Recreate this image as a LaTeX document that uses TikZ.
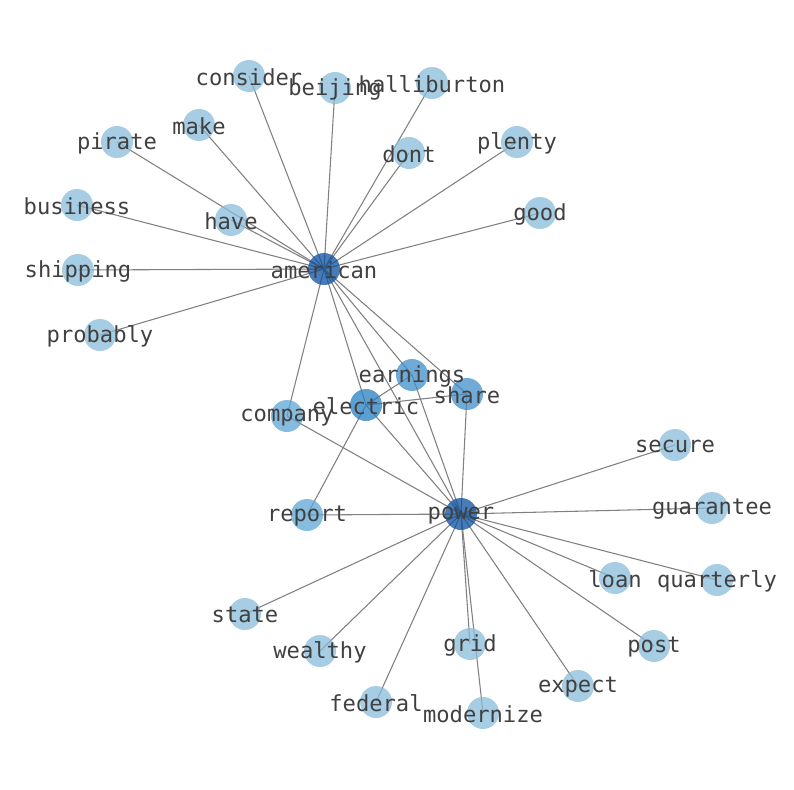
\documentclass[tikz,border=0pt]{standalone}
\usepackage{fontspec}
\setmonofont{DejaVu Sans Mono}
\usetikzlibrary{backgrounds}
\definecolor{leaf}{RGB}{136,188,218}
\definecolor{midleaf}{RGB}{94,166,212}
\definecolor{inner}{RGB}{64,143,202}
\definecolor{hubish}{RGB}{40,127,193}
\definecolor{hub}{RGB}{10,80,160}
\definecolor{labelgray}{RGB}{64,64,64}
\begin{document}
\begin{tikzpicture}[x=0.75pt,y=-0.75pt,
word/.style={%
circle,
minimum size=24pt,
inner sep=0pt,
fill opacity=0.75
},
wordtext/.style={%
font=\ttfamily\fontsize{16.6}{16.6}\selectfont,
text=labelgray,
inner sep=0pt
},
link/.style={%
draw=gray,
line width=0.8pt
}]
\useasboundingbox (0,0) rectangle (794,790);
% words
\foreach \n/\x/\y/\c in {american/324/269/hub,power/461/514/hub,
electric/366/405/hubish,earnings/412/375/inner,share/467/394/inner,
report/307/515/midleaf,company/287/416/midleaf,
consider/249/76/leaf,beijing/335/88/leaf,halliburton/432/83/leaf,
make/199/125/leaf,pirate/117/142/leaf,dont/409/153/leaf,
plenty/517/142/leaf,business/77/205/leaf,have/231/220/leaf,
good/540/213/leaf,shipping/78/270/leaf,probably/100/335/leaf,
secure/675/445/leaf,guarantee/712/508/leaf,loan/615/578/leaf,
quarterly/717/580/leaf,state/245/614/leaf,wealthy/320/651/leaf,
grid/470/644/leaf,post/654/646/leaf,expect/578/686/leaf,
federal/376/702/leaf,modernize/483/713/leaf}{%
\node[word,fill=\c] (\n) at (\x,\y) {};
}
% labels on top
\foreach \n in {american,power,electric,earnings,share,report,company,
consider,beijing,halliburton,make,pirate,dont,plenty,business,have,
good,shipping,probably,secure,guarantee,loan,quarterly,state,wealthy,
grid,post,expect,federal,modernize}{%
\node[wordtext] (\n-label) at ([yshift=-1pt]\n.center) {\n};
}
% links
\begin{scope}[on background layer]
\foreach \m in {consider,beijing,halliburton,make,pirate,dont,plenty,
business,have,good,shipping,probably,company,electric,earnings,share,power}{%
\draw[link] (american.center) -- (\m.center);
}
\foreach \m in {secure,guarantee,loan,quarterly,post,expect,modernize,
grid,federal,wealthy,state,report,company,electric,earnings,share}{%
\draw[link] (power.center) -- (\m.center);
}
\foreach \m in {report,earnings,share}{%
\draw[link] (electric.center) -- (\m.center);
}
\end{scope}
\end{tikzpicture}
\end{document}
